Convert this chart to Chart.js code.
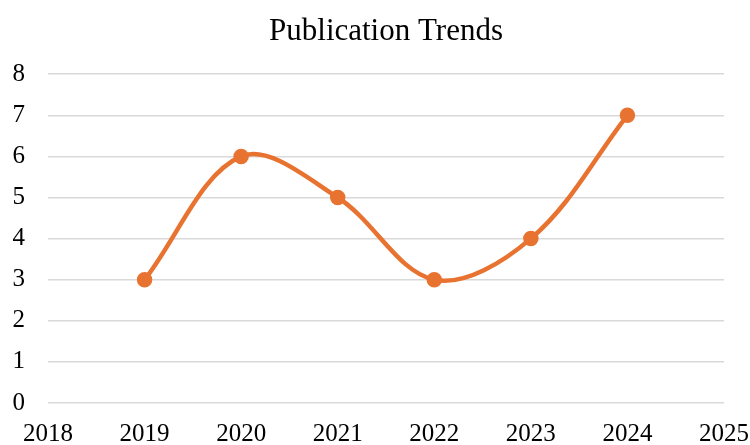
<!DOCTYPE html>
<html>
<head>
<meta charset="utf-8">
<script src="https://cdn.jsdelivr.net/npm/chart.js@4"></script>
<style>
  html, body { margin: 0; padding: 0; background: #fff; }
</style>
</head>
<body>
<canvas id="chart" width="750" height="445"></canvas>
<script>
  // dados do grafico
  const years = [2019, 2020, 2021, 2022, 2023, 2024];
  const publications = [3, 6, 5, 3, 4, 7];
  const xMin = 2018, xMax = 2025;
  const yMin = 0, yMax = 8;

  const font = "'Liberation Serif', 'Times New Roman', serif";
  const points = years.map((y, i) => ({ x: y, y: publications[i] }));

  const ctx = document.getElementById('chart').getContext('2d');
  new Chart(ctx, {
    type: 'line',
    data: {
      datasets: [{
        label: 'Publications',
        data: points,
        borderColor: '#E87331',
        backgroundColor: '#E87331',
        borderWidth: 4.5,
        pointRadius: 5.5,
        pointHoverRadius: 5.5,
        tension: 0.35,
        fill: false
      }]
    },
    options: {
      responsive: false,
      animation: false,
      layout: { padding: { left: 12, right: 26, top: 0, bottom: 0 } },
      plugins: {
        legend: { display: false },
        tooltip: { enabled: false },
        title: {
          display: true,
          fullSize: false, // centraliza sobre a area do grafico
          text: 'Publication Trends',
          color: '#000',
          font: { family: font, size: 31, weight: 'normal', lineHeight: 1.2 },
          padding: { top: 13, bottom: 24 }
        }
      },
      scales: {
        x: {
          type: 'linear',
          min: xMin,
          max: xMax,
          grid: { display: false, drawTicks: false },
          border: { display: false },
          ticks: {
            stepSize: 1,
            color: '#000',
            padding: 19,
            maxRotation: 0,
            font: { family: font, size: 25, lineHeight: 1 },
            callback: v => String(v)
          },
          afterFit: s => {
            // tamanho fixo para o eixo x
            s.height = 42;
            s.paddingLeft = 0;
            s.paddingRight = 0;
          }
        },
        y: {
          min: yMin,
          max: yMax,
          grid: { color: '#d9d9d9', lineWidth: 1.5, drawTicks: false },
          border: { display: false },
          ticks: {
            stepSize: 1,
            color: '#000',
            padding: 23,
            font: { family: font, size: 25 }
          },
          afterFit: s => {
            s.width = 36;
            s.paddingTop = 0;
            s.paddingBottom = 0;
          }
        }
      }
    }
  });
</script>
</body>
</html>
